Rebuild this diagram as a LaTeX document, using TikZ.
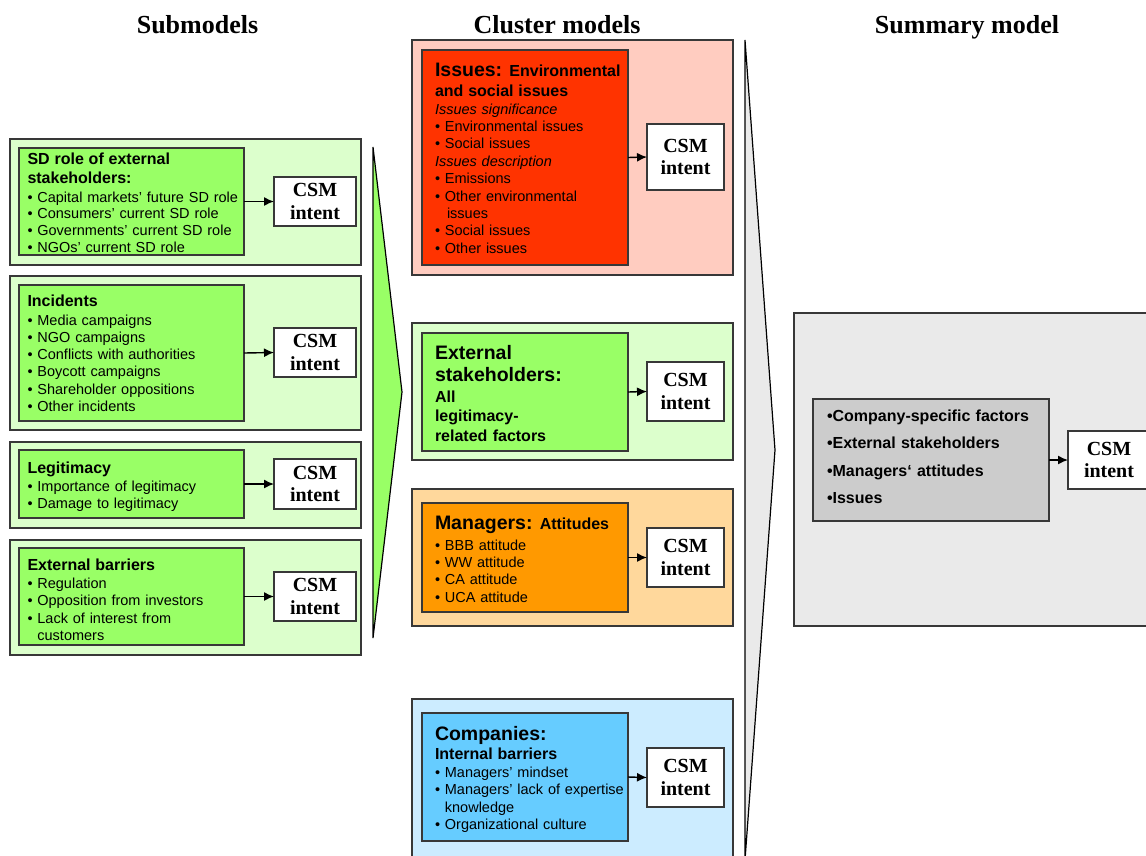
\documentclass[tikz,border=0pt]{standalone}
\usepackage{fontspec}
\setmainfont{Liberation Sans}
\newfontfamily\tnr{Liberation Serif}
\usetikzlibrary{arrows.meta}

\definecolor{frame}{HTML}{383838}
\definecolor{paleGreen}{HTML}{DCFFCC}
\definecolor{leafGreen}{HTML}{99FF66}
\definecolor{palePink}{HTML}{FFCCC0}
\definecolor{issueRed}{HTML}{FF3300}
\definecolor{paleOrange}{HTML}{FFD89C}
\definecolor{mgrOrange}{HTML}{FF9900}
\definecolor{paleBlue}{HTML}{CCECFF}
\definecolor{coBlue}{HTML}{66CCFF}
\definecolor{paleGray}{HTML}{EAEAEA}
\definecolor{midGray}{HTML}{CCCCCC}

\newcommand{\hdfont}{\fontsize{16}{19}\selectfont\bfseries}
\newcommand{\bigfont}{\fontsize{19.5}{22}\selectfont\bfseries}
\newcommand{\bodyfont}[1]{\fontsize{14.5}{#1}\selectfont}

\tikzset{
  panel/.style={draw=frame, line width=1.5pt, anchor=north west, inner sep=0pt, outer sep=0pt},
  csm/.style={panel, fill=white, align=center,
    font={\tnr\fontsize{20}{22.7}\selectfont\bfseries}},
  txt/.style={anchor=base west, inner sep=0pt, outer sep=0pt, align=left, text width=#1},
  txt/.default=230pt,
  title/.style={anchor=base, inner sep=0pt, font={\tnr\fontsize{26}{30}\selectfont\bfseries}},
  conn/.style={-{Latex[length=10pt,width=9pt]}, line width=1.4pt, black},
  bigarrow/.style={draw=black, line width=1.2pt, line join=miter}
}

\begin{document}
\begin{tikzpicture}[x=1pt,y=-1pt]
\useasboundingbox (0,0) rectangle (1146,855);
\clip (0,0) rectangle (1146,855);

% column titles
\node[title] (tSub) at (197.5,33) {Submodels};
\node[title] (tClu) at (557,33) {Cluster models};
\node[title] (tSum) at (967,33) {Summary model};

% wide arrows between the columns
\coordinate (gaTop) at (373,147);
\coordinate (gaTip) at (402,392);
\coordinate (gaBot) at (373,638);
\draw[bigarrow, fill=leafGreen] (gaTop) -- (gaTip) -- (gaBot) -- cycle;
\coordinate (waTop) at (745,40);
\coordinate (waTip) at (775,450);
\coordinate (waBot) at (745,860);
\draw[bigarrow, fill=paleGray] (waTop) -- (waTip) -- (waBot) -- cycle;

% ---------- submodels ----------
\node[panel, fill=paleGreen, minimum width=351pt, minimum height=126pt] (o1) at (10,139) {};
\node[panel, fill=paleGreen, minimum width=351pt, minimum height=154pt] (o2) at (10,276) {};
\node[panel, fill=paleGreen, minimum width=351pt, minimum height=86pt]  (o3) at (10,442) {};
\node[panel, fill=paleGreen, minimum width=351pt, minimum height=115pt] (o4) at (10,540) {};

\node[panel, fill=leafGreen, minimum width=225pt, minimum height=107pt] (s1) at (19,148) {};
\node[panel, fill=leafGreen, minimum width=225pt, minimum height=136pt] (s2) at (19,285) {};
\node[panel, fill=leafGreen, minimum width=225pt, minimum height=68pt]  (s3) at (19,450) {};
\node[panel, fill=leafGreen, minimum width=225pt, minimum height=97pt]  (s4) at (19,548) {};

\node[csm, minimum width=82pt, minimum height=49pt] (c1) at (274,177) {CSM\\intent};
\node[csm, minimum width=82pt, minimum height=49pt] (c2) at (274,328) {CSM\\intent};
\node[csm, minimum width=82pt, minimum height=50pt] (c3) at (274,459) {CSM\\intent};
\node[csm, minimum width=82pt, minimum height=49pt] (c4) at (274,572) {CSM\\intent};

\node[txt, font=\bodyfont{16.8}] (x1) at (27.5,164.3) {%
  {\hdfont SD role of external\\[2.2pt] stakeholders:}\\[1.9pt]
  • Capital markets’ future SD role\\
  • Consumers’ current SD role\\
  • Governments’ current SD role\\
  • NGOs’ current SD role};
\node[txt, font=\bodyfont{17.3}] (x2) at (27.5,306.7) {%
  {\hdfont Incidents}\\[1pt]
  • Media campaigns\\
  • NGO campaigns\\
  • Conflicts with authorities\\
  • Boycott campaigns\\
  • Shareholder oppositions\\
  • Other incidents};
\node[txt, font=\bodyfont{16.7}] (x3) at (27.5,473.3) {%
  {\hdfont Legitimacy}\\[1.7pt]
  • Importance of legitimacy\\
  • Damage to legitimacy};
\node[txt, font=\bodyfont{17.4}] (x4) at (27.5,570) {%
  {\hdfont External barriers}\\[1pt]
  • Regulation\\
  • Opposition from investors\\
  • Lack of interest from\\
  \hphantom{•~}customers};

\draw[conn] (s1.east) -- (c1.west);
\draw[conn] (s2.east) -- (c2.west);
\draw[conn] (s3.east) -- (c3.west);
\draw[conn] (s4.east) -- (c4.west);

% ---------- cluster models ----------
\node[panel, fill=palePink,   minimum width=321pt, minimum height=235pt] (m1o) at (412,40) {};
\node[panel, fill=paleGreen,  minimum width=321pt, minimum height=137pt] (m2o) at (412,323) {};
\node[panel, fill=paleOrange, minimum width=321pt, minimum height=137pt] (m3o) at (412,489) {};
\node[panel, fill=paleBlue,   minimum width=321pt, minimum height=200pt] (m4o) at (412,699) {};

\node[panel, fill=issueRed,  minimum width=206pt, minimum height=215pt] (m1) at (422,50) {};
\node[panel, fill=leafGreen, minimum width=206pt, minimum height=118pt] (m2) at (422,333) {};
\node[panel, fill=mgrOrange, minimum width=206pt, minimum height=109pt] (m3) at (422,503) {};
\node[panel, fill=coBlue,    minimum width=206pt, minimum height=128pt] (m4) at (422,713) {};

\node[csm, minimum width=77pt, minimum height=66pt] (d1) at (647,124) {CSM\\intent};
\node[csm, minimum width=77pt, minimum height=59pt] (d2) at (647,362) {CSM\\intent};
\node[csm, minimum width=77pt, minimum height=59pt] (d3) at (647,528) {CSM\\intent};
\node[csm, minimum width=77pt, minimum height=59pt] (d4) at (647,748) {CSM\\intent};

\node[txt=200pt, font=\bodyfont{17.4}] (y1) at (435,76) {%
  {\bigfont Issues: }{\hdfont Environmental}\\[3.3pt]
  {\hdfont and social issues}\\
  \textit{Issues significance}\\
  • Environmental issues\\
  • Social issues\\
  \textit{Issues description}\\
  • Emissions\\
  • Other environmental\\
  \hspace*{12pt}issues\\
  • Social issues\\
  • Other issues};
\node[txt=200pt, font={\fontsize{16}{19.2}\selectfont}] (y2) at (435,359.3) {%
  {\bigfont External\\[3.2pt] stakeholders:}\\[1.8pt]
  {\bfseries All\\ legitimacy-\\ related factors}};
\node[txt=200pt, font=\bodyfont{17.4}] (y3) at (435,529.3) {%
  {\bigfont Managers: }{\hdfont Attitudes}\\[3.3pt]
  • BBB attitude\\
  • WW attitude\\
  • CA attitude\\
  • UCA attitude};
\node[txt=200pt, font=\bodyfont{17.4}] (y4) at (435,740) {%
  {\bigfont Companies:}\\[1.9pt]
  {\hdfont Internal barriers}\\[0.6pt]
  • Managers’ mindset\\
  • Managers’ lack of expertise\\
  \hphantom{•~}knowledge\\
  • Organizational culture};

\draw[conn] (m1.east) -- (d1.west);
\draw[conn] (m2.east) -- (d2.west);
\draw[conn] (m3.east) -- (d3.west);
\draw[conn] (m4.east) -- (d4.west);

% ---------- summary model ----------
\node[panel, fill=paleGray, minimum width=380pt, minimum height=313pt] (ro) at (794,313) {};
\node[panel, fill=midGray,  minimum width=236pt, minimum height=122pt] (r)  at (813,399) {};
\node[csm, minimum width=82pt, minimum height=58pt] (rc) at (1068,431) {CSM\\intent};
\node[txt=220pt, font={\fontsize{16}{27.2}\selectfont\bfseries}] (z) at (827,421.7) {%
  •Company-specific factors\\
  •External stakeholders\\
  •Managers‘ attitudes\\
  •Issues};
\draw[conn] (r.east) -- (rc.west);
\end{tikzpicture}
\end{document}
